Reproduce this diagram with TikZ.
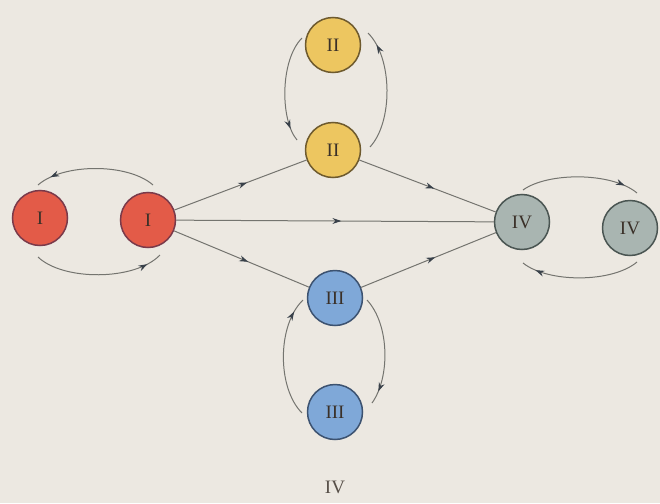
\documentclass[tikz,border=0pt]{standalone}
\usepackage{fontspec}
\setmainfont{Liberation Serif}
\usetikzlibrary{calc,arrows.meta,decorations.markings}
\definecolor{paper}{HTML}{ECE8E1}
\definecolor{redfill}{HTML}{E35B48}
\definecolor{redline}{HTML}{7A3A4A}
\definecolor{yelfill}{HTML}{EDC660}
\definecolor{yelline}{HTML}{6E5A2E}
\definecolor{bluefill}{HTML}{7FA8D8}
\definecolor{blueline}{HTML}{3C5270}
\definecolor{grayfill}{HTML}{A9B5B1}
\definecolor{grayline}{HTML}{4A5552}
\definecolor{wire}{HTML}{74746F}
\definecolor{tip}{HTML}{39414A}
\definecolor{ink}{HTML}{3A3028}
\tikzset{
  cell/.style={circle,minimum size=55pt,inner sep=0pt,line width=1.5pt,
    font=\fontsize{19}{19}\selectfont,text=ink},
  redcell/.style={cell,fill=redfill,draw=redline},
  yelcell/.style={cell,fill=yelfill,draw=yelline},
  bluecell/.style={cell,fill=bluefill,draw=blueline},
  graycell/.style={cell,fill=grayfill,draw=grayline},
  wireline/.style={draw=wire,line width=1pt},
  tipat/.style={postaction={decorate,decoration={markings,
    mark=at position #1 with {\arrow[tip]{Stealth[length=9pt,width=6pt]}}}}}
}
\begin{document}
\begin{tikzpicture}[x=1pt,y=-1pt]
\fill[paper] (0,0) rectangle (660,503);
\useasboundingbox (0,0) rectangle (660,503);

% cells
\node[redcell]  (I1)   at (40,218)  {I};
\node[redcell]  (I2)   at (148,220) {I};
\node[yelcell]  (IIt)  at (333,45)  {II};
\node[yelcell]  (IIb)  at (333,150) {II};
\node[bluecell] (IIIt) at (335,298) {III};
\node[bluecell] (IIIb) at (335,412) {III};
\node[graycell] (IVl)  at (522,222) {IV};
\node[graycell] (IVr)  at (630,228) {IV};
\node[font=\fontsize{19}{19}\selectfont,text=ink!85] (cap) at (335,487) {IV};

% straight transitions
\draw[wireline,tipat=0.55] (I2) -- (IIb);
\draw[wireline,tipat=0.52] (I2) -- (IVl);
\draw[wireline,tipat=0.55] (I2) -- (IIIt);
\draw[wireline,tipat=0.55] (IIb) -- (IVl);
\draw[wireline,tipat=0.55] (IIIt) -- (IVl);

% exchange loops
\draw[wireline,tipat=0.88] ($(I2)+(5,-35)$) .. controls +(-25,-22) and +(25,-22) .. ($(I1)+(-2,-33)$);
\draw[wireline,tipat=0.88] ($(I1)+(-2,39)$) .. controls +(25,24) and +(-25,26) .. ($(I2)+(12,35)$);

\draw[wireline,tipat=0.88] ($(IIt)+(-31,-7)$) .. controls +(-22,22) and +(-17,-20) .. ($(IIb)+(-36,-10)$);
\draw[wireline,tipat=0.88] ($(IIb)+(37,-3)$) .. controls +(23,-25) and +(25,25) .. ($(IIt)+(35,-12)$);

\draw[wireline,tipat=0.88] ($(IIIb)+(-33,1)$) .. controls +(-25,-25) and +(-26,25) .. ($(IIIt)+(-32,2)$);
\draw[wireline,tipat=0.88] ($(IIIt)+(32,2)$) .. controls +(23,25) and +(18,-25) .. ($(IIIb)+(37,-9)$);

\draw[wireline,tipat=0.88] ($(IVl)+(1,-32)$) .. controls +(25,-18) and +(-25,-21) .. ($(IVr)+(7,-35)$);
\draw[wireline,tipat=0.88] ($(IVr)+(7,34)$) .. controls +(-25,21) and +(25,20) .. ($(IVl)+(1,41)$);
\end{tikzpicture}
\end{document}
